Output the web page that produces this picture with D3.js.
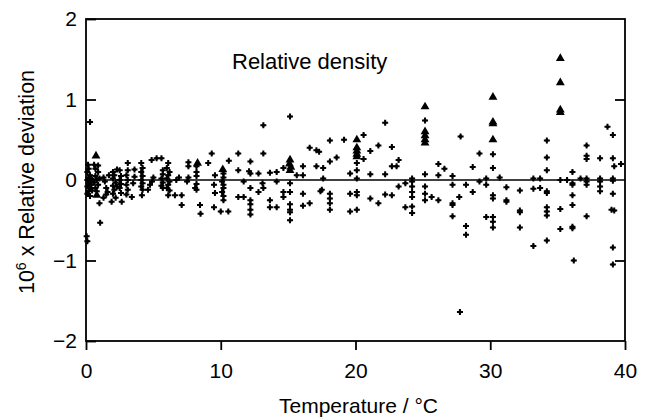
<!DOCTYPE html>
<html>
<head>
<meta charset="utf-8">
<script src="https://cdn.jsdelivr.net/npm/d3@7"></script>
<style>
  body { margin: 0; background: #fff; }
  svg text { font-family: "Liberation Sans", Arial, sans-serif; fill: #000; }
</style>
</head>
<body>
<svg id="chart" width="646" height="420"></svg>
<script>
// Deviation points: [temperature, 1e6 x relative deviation]
// small diamond markers
const diamondPts = [
  [0.3, 0.72], [0.15, 0.19], [0.2, 0.14], [0.1, 0.1], [0.3, 0.06], [0.2, 0.03], [0.1, 0.0],
  [0.3, -0.02], [0.2, -0.05], [0.1, -0.08], [0.3, -0.1], [0.2, -0.14], [0.1, -0.17], [0.3, -0.2],
  [0.4, 0.02], [0.4, -0.06], [0.45, -0.13],
  [0.05, -0.7], [0.1, -0.76],
  [0.6, 0.19], [0.7, 0.14], [0.9, 0.1], [0.7, 0.05], [0.8, 0.0], [0.6, -0.03], [0.9, -0.06],
  [0.7, -0.1], [0.8, -0.14], [1.0, -0.29], [1.05, -0.53], [0.9, 0.18], [1.0, 0.02],
  [1.3, 0.03], [1.4, -0.02], [1.5, -0.1], [1.6, -0.15], [1.3, -0.22], [1.5, -0.18], [1.7, 0.06],
  [2.0, 0.1], [2.1, 0.06], [2.0, 0.02], [2.2, -0.03], [2.0, -0.07], [2.1, -0.12], [2.0, -0.17],
  [2.2, -0.22], [1.9, -0.27], [2.3, 0.13], [2.3, -0.08],
  [2.5, 0.12], [2.6, 0.05], [2.5, 0.0], [2.6, -0.05], [2.5, -0.1], [2.6, -0.16], [2.65, -0.27],
  [3.1, 0.21], [3.1, 0.12], [3.0, 0.06], [3.1, 0.0], [3.0, -0.06], [3.1, -0.12], [3.0, -0.18],
  [3.4, -0.21], [3.6, 0.04], [3.5, -0.04], [3.6, 0.13],
  [4.1, 0.21], [4.2, 0.15], [4.1, 0.1], [4.2, 0.05], [4.1, 0.0], [4.2, -0.04], [4.1, -0.08],
  [4.2, -0.12], [4.15, -0.19],
  [4.75, -0.06], [4.6, -0.12], [4.87, 0.25], [5.0, 0.03], [4.9, -0.02],
  [5.24, 0.27], [5.6, 0.27], [5.7, 0.12], [5.7, 0.07], [5.6, 0.02], [5.7, -0.03], [5.6, -0.07], [5.7, -0.1],
  [6.1, 0.21], [6.0, 0.15], [6.2, 0.1], [6.1, 0.06], [6.0, 0.02], [6.2, -0.02], [6.1, -0.06],
  [6.0, -0.1], [6.2, -0.13], [6.1, -0.19],
  [6.6, -0.19], [6.7, 0.0], [7.1, -0.19], [7.1, -0.31], [6.9, 0.03],
  [7.6, 0.22], [7.6, 0.17], [7.6, 0.03], [7.5, -0.02],
  [8.2, 0.17], [8.2, 0.1], [8.2, 0.05], [8.2, -0.05], [8.1, -0.1], [8.2, -0.12], [8.46, -0.31], [8.5, -0.42],
  [9.07, 0.21], [9.33, 0.33], [9.57, 0.06], [9.5, -0.06], [9.57, -0.16], [9.5, -0.34],
  [10.2, 0.08], [10.2, 0.03], [10.1, -0.02], [10.2, -0.06], [10.2, -0.1], [10.1, -0.15], [10.2, -0.2],
  [10.2, -0.25], [10.0, -0.39], [10.56, -0.39], [10.6, 0.24],
  [11.3, 0.33], [11.3, 0.12], [11.7, -0.02], [11.3, -0.21], [11.7, -0.21],
  [12.2, 0.23], [12.1, 0.11], [12.2, 0.08], [12.2, -0.1], [12.2, -0.25], [12.2, -0.3], [12.2, -0.37], [12.2, -0.43],
  [12.8, 0.08], [12.8, -0.15], [13.16, 0.68], [13.16, 0.33], [13.1, -0.04], [13.16, -0.1],
  [13.65, 0.09], [13.65, -0.25], [13.65, -0.34],
  [14.15, 0.1], [14.15, -0.02], [14.15, -0.34],
  [14.65, 0.15], [14.65, -0.15], [14.65, -0.21],
  [15.14, 0.79], [15.14, -0.04], [15.14, -0.15], [15.14, -0.3], [15.14, -0.37], [15.14, -0.4], [15.14, -0.5],
  [15.64, 0.06],
  [16.1, 0.17], [16.1, 0.06], [16.1, -0.17], [16.1, -0.32],
  [16.6, 0.4], [16.6, -0.29],
  [17.1, 0.37], [17.3, 0.35], [17.1, 0.17],
  [17.6, 0.15], [17.6, 0.02], [17.5, -0.12], [17.4, -0.14],
  [18.1, 0.49], [18.1, 0.23], [18.1, -0.17], [18.1, -0.23], [18.1, -0.29], [18.1, -0.37],
  [18.6, 0.28], [19.15, 0.5],
  [19.6, 0.08], [19.6, -0.17], [19.6, -0.39],
  [20.1, 0.21], [20.1, 0.12], [20.1, 0.02], [20.1, -0.15], [20.1, -0.19], [20.1, -0.37],
  [20.6, 0.56], [20.6, 0.26],
  [21.1, 0.36], [21.1, 0.07], [21.1, -0.23],
  [21.7, 0.43], [21.7, -0.29],
  [22.2, 0.71], [22.2, 0.07], [22.2, -0.18],
  [22.7, 0.41], [22.7, 0.17], [22.7, -0.19],
  [23.05, 0.17], [23.2, 0.25], [23.2, -0.08],
  [23.7, -0.04], [23.7, -0.34],
  [24.2, 0.02], [24.2, -0.02], [24.2, -0.08], [24.2, -0.15], [24.2, -0.21], [24.2, -0.33], [24.2, -0.41],
  [25.16, 0.74], [25.16, 0.07], [25.16, -0.08], [25.16, -0.17], [25.16, -0.25],
  [25.65, -0.21],
  [26.15, 0.2], [26.15, 0.06], [26.15, -0.25], [26.6, 0.14],
  [27.2, 0.05], [27.2, -0.06], [27.2, -0.29], [27.2, -0.31], [27.2, -0.45],
  [27.7, -0.21], [27.8, 0.54], [27.75, -1.64],
  [28.2, -0.06], [28.2, -0.57], [28.2, -0.68],
  [28.7, 0.16], [28.7, -0.15],
  [29.2, 0.33], [29.2, -0.02],
  [29.7, 0.02], [29.7, -0.06], [29.7, -0.46],
  [30.2, 0.32], [30.2, 0.15], [30.2, -0.19], [30.2, -0.23], [30.2, -0.46], [30.2, -0.52], [30.2, -0.59],
  [30.7, 0.03],
  [31.2, -0.09], [31.2, -0.25], [31.2, -0.27],
  [32.2, -0.13], [32.2, -0.38], [32.2, -0.4], [32.2, -0.59],
  [33.2, 0.02], [33.2, -0.11], [33.2, -0.82],
  [33.7, 0.02], [33.7, -0.1],
  [34.2, 0.49], [34.2, 0.28], [34.2, 0.12], [34.2, -0.14], [34.2, -0.16], [34.2, -0.34], [34.2, -0.39],
  [34.2, -0.44], [34.2, -0.75],
  [35.2, 0.0], [35.2, -0.36], [35.2, -0.61], [35.7, 0.0],
  [36.1, 0.1], [36.1, -0.04], [36.1, -0.06], [36.1, -0.19], [36.1, -0.31], [36.1, -0.58], [36.1, -0.6], [36.2, -1.0],
  [36.7, 0.02],
  [37.15, 0.43], [37.15, 0.3], [37.15, 0.26], [37.15, 0.02], [37.15, -0.02], [37.15, -0.06], [37.15, -0.45],
  [38.15, 0.27], [38.15, 0.02], [38.15, -0.02], [38.15, -0.08], [38.15, -0.14],
  [38.7, 0.66],
  [39.1, 0.56], [39.1, 0.27], [39.2, 0.17], [39.1, 0.02], [39.1, -0.01], [39.1, -0.17], [39.0, -0.37],
  [39.2, -0.38], [39.1, -0.84], [39.1, -1.05],
  [39.7, 0.2]
];

// filled triangle markers
const trianglePts = [
  [0.74, 0.3], [0.8, -0.19],
  [8.28, 0.21], [10.15, 0.13],
  [15.14, 0.25], [15.1, 0.2], [15.2, 0.16], [15.14, 0.12],
  [20.1, 0.5], [20.1, 0.4], [20.1, 0.36], [20.1, 0.32], [20.1, 0.29],
  [25.16, 0.91], [25.16, 0.6], [25.16, 0.55], [25.16, 0.5], [25.16, 0.46],
  [30.2, 1.03], [30.2, 0.72], [30.2, 0.7], [30.2, 0.5],
  [35.2, 1.51], [35.2, 1.21], [35.2, 0.87], [35.2, 0.84]
];

const xTicks = [0, 10, 20, 30, 40];
const yTicks = [-2, -1, 0, 1, 2];

const svg = d3.select("#chart");
const plotL = 86, plotR = 625, plotT = 19, plotB = 341;

const x = d3.scaleLinear().domain([0, 40]).range([plotL, plotR]);
const y = d3.scaleLinear().domain([-2, 2]).range([plotB, plotT]);

// axes
const xAxis = svg.append("g")
  .attr("transform", "translate(0," + plotB + ")")
  .call(d3.axisBottom(x).tickValues(xTicks).tickSize(9).tickSizeOuter(0).tickPadding(13));

const yAxis = svg.append("g")
  .attr("transform", "translate(" + plotL + ",0)")
  .call(d3.axisLeft(y).tickValues(yTicks).tickSize(-10).tickSizeOuter(0).tickPadding(9)
    .tickFormat(d => d < 0 ? "\u2212" + Math.abs(d) : d));

const yAxisR = svg.append("g")
  .attr("transform", "translate(" + plotR + ",0)")
  .call(d3.axisRight(y).tickValues([-1, 1]).tickSize(-10).tickSizeOuter(0).tickFormat(""));

[xAxis, yAxis, yAxisR].forEach(a => {
  a.select(".domain").remove();
  a.selectAll("line").attr("stroke", "#000").attr("stroke-width", 1.8);
  a.selectAll("text").attr("font-size", 21).attr("font-family", "Liberation Sans, Arial, sans-serif");
});

// frame
svg.append("rect")
  .attr("x", plotL).attr("y", plotT)
  .attr("width", plotR - plotL).attr("height", plotB - plotT)
  .attr("fill", "none").attr("stroke", "#000").attr("stroke-width", 1.8);

// zero line
svg.append("line")
  .attr("x1", plotL).attr("x2", plotR)
  .attr("y1", y(0)).attr("y2", y(0))
  .attr("stroke", "#000").attr("stroke-width", 1.7);

// markers: small blobby plus = cross + little dot
const cross = d3.symbol().type(d3.symbolCross).size(20);
const dot = d3.symbol().type(d3.symbolCircle).size(9);
const dg = svg.append("g").selectAll("g")
  .data(diamondPts)
  .join("g")
  .attr("transform", d => "translate(" + x(d[0]) + "," + y(d[1]) + ")");
dg.append("path").attr("d", cross).attr("fill", "#000");
dg.append("path").attr("d", dot).attr("fill", "#000");

const tri = d3.symbol().type(d3.symbolTriangle).size(34);
svg.append("g").selectAll("path")
  .data(trianglePts)
  .join("path")
  .attr("d", tri)
  .attr("transform", d => "translate(" + x(d[0]) + "," + y(d[1]) + ")")
  .attr("fill", "#000");

// labels
svg.append("text")
  .attr("x", 232).attr("y", 69)
  .attr("font-size", 22)
  .text("Relative density");

svg.append("text")
  .attr("x", (plotL + plotR) / 2 + 3).attr("y", 413)
  .attr("text-anchor", "middle")
  .attr("font-size", 21)
  .text("Temperature / \u00B0C");

const yl = svg.append("text")
  .attr("transform", "translate(34,182) rotate(-90)")
  .attr("text-anchor", "middle")
  .attr("font-size", 21.5);
yl.append("tspan").text("10");
yl.append("tspan").attr("dy", -8).attr("font-size", 14).text("6");
yl.append("tspan").attr("dy", 8).text(" x Relative deviation");
</script>
</body>
</html>
